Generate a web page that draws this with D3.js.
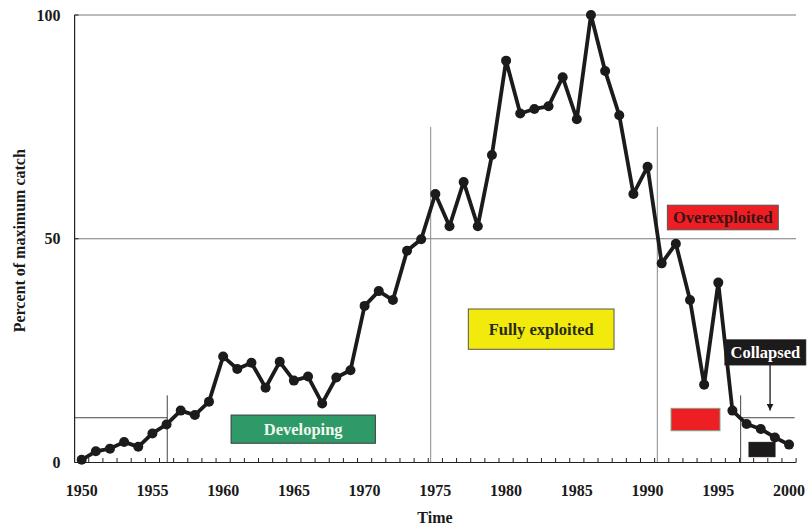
<!DOCTYPE html>
<html>
<head>
<meta charset="utf-8">
<script src="https://cdn.jsdelivr.net/npm/d3@7"></script>
<style>
  html, body { margin: 0; padding: 0; background: #fff; }
  svg { display: block; }
</style>
</head>
<body>
<svg id="chart" width="809" height="527" font-family="'Liberation Serif', 'Times New Roman', Times, 'DejaVu Serif', serif" font-weight="bold"></svg>
<script>
// ---- Data ----
const years = d3.range(1950, 2001);
const catchPct = [
  0.6, 2.5, 3.1, 4.6, 3.5, 6.5, 8.5, 11.6, 10.6, 13.6,
  23.7, 20.9, 22.3, 16.7, 22.5, 18.3, 19.2, 13.2, 19.0, 20.6,
  35.0, 38.3, 36.3, 47.3, 49.9, 60.0, 52.8, 62.7, 52.8, 68.7,
  89.8, 78.0, 79.0, 79.6, 86.1, 76.7, 100.0, 87.5, 77.6, 60.0,
  66.1, 44.5, 48.9, 36.3, 17.4, 40.2, 11.6, 8.6, 7.5, 5.6,
  4.0
];
const yTicks = [0, 50, 100];
const xTickLabels = [1950, 1955, 1960, 1965, 1970, 1975, 1980, 1985, 1990, 1995, 2000];
const yTitle = "Percent of maximum catch";
const xTitle = "Time";

// Phase boundary lines (year, value)
const phaseVerticals = [
  { x: 1956.05, top: 15 },
  { x: 1974.67, top: 75 },
  { x: 1990.69, top: 75 },
  { x: 1996.58, top: 15 }
];
const phaseHorizontals = [
  { x0: 1949.5, x1: 1956.05, v: 10 },
  { x0: 1996.58, x1: 2000.4, v: 10 }
];
// Labelled boxes (year / value extents)
const boxes = [
  { label: "Developing",      x0: 1960.56, x1: 1970.76, v0: 4.3,  v1: 10.6, fill: "#2e9a68", text: "#f2f7f0", stroke: "#3a3a3a" },
  { label: "Fully exploited", x0: 1977.33, x1: 1987.63, v0: 25.3, v1: 34.3, fill: "#f2ea0c", text: "#2a2a1a", stroke: "#555" },
  { label: "Overexploited",   x0: 1991.40, x1: 1999.24, v0: 52.0, v1: 57.5, fill: "#ee1f24", text: "#3a1414", stroke: "#555" },
  { label: "Collapsed",       x0: 1995.47, x1: 2001.18, v0: 21.8, v1: 27.4, fill: "#1c1a1a", text: "#ffffff", stroke: "#1c1a1a" },
  { label: "",                x0: 1991.66, x1: 1995.12, v0: 7.1,  v1: 12.1, fill: "#ee1f24", text: "#fff",    stroke: "#7aa88a" },
  { label: "",                x0: 1997.17, x1: 1999.01, v0: 1.3,  v1: 4.5,  fill: "#1c1a1a", text: "#fff",    stroke: "#1c1a1a" }
];
const arrow = { x: 1998.66, from: 21.8, to: 11.6 };

// ---- Scales ----
const svg = d3.select("#chart");
const x = d3.scaleLinear().domain([1949.5, 2000.5]).range([74.6, 796.1]);
const y = d3.scaleLinear().domain([0, 100]).range([462.5, 15]);

// gridlines at 50 and 100
svg.append("g").selectAll("line").data(yTicks.filter(d => d > 0)).join("line")
  .attr("x1", x(1949.5)).attr("x2", x(2000.5))
  .attr("y1", d => y(d)).attr("y2", d => y(d))
  .attr("stroke", "#7a7a7a").attr("stroke-width", 1);

// phase lines
svg.append("g").selectAll("line").data(phaseVerticals).join("line")
  .attr("x1", d => x(d.x)).attr("x2", d => x(d.x))
  .attr("y1", d => y(d.top)).attr("y2", y(0))
  .attr("stroke", d => d.top > 50 ? "#8a8a8a" : "#444").attr("stroke-width", 1);
svg.append("g").selectAll("line").data(phaseHorizontals).join("line")
  .attr("x1", d => x(d.x0)).attr("x2", d => x(d.x1))
  .attr("y1", d => y(d.v)).attr("y2", d => y(d.v))
  .attr("stroke", "#444").attr("stroke-width", 1);

// x axis (ticks at category boundaries, pointing up)
const xAxisG = svg.append("g").attr("transform", `translate(0,${y(0)})`);
xAxisG.append("line").attr("x1", x(1949.5)).attr("x2", x(2000.5))
  .attr("stroke", "#222").attr("stroke-width", 1.2);
xAxisG.selectAll("line.tick").data(d3.range(1950.5, 2001.5, 1)).join("line")
  .attr("class", "tick")
  .attr("x1", d => x(d)).attr("x2", d => x(d)).attr("y1", 0).attr("y2", -4.5)
  .attr("stroke", "#222").attr("stroke-width", 1);
xAxisG.selectAll("text").data(xTickLabels).join("text")
  .attr("x", d => x(d)).attr("y", 33)
  .attr("text-anchor", "middle").attr("font-size", 16).attr("fill", "#1a1a1a")
  .text(d => d);

// y axis
const yAxisG = svg.append("g").attr("transform", `translate(${x(1949.5)},0)`);
yAxisG.append("line").attr("y1", y(100)).attr("y2", y(0))
  .attr("stroke", "#222").attr("stroke-width", 1.2);
yAxisG.selectAll("line.tick").data(yTicks).join("line")
  .attr("class", "tick")
  .attr("x1", 0).attr("x2", 4).attr("y1", d => y(d)).attr("y2", d => y(d))
  .attr("stroke", "#222");
yAxisG.selectAll("text").data(yTicks).join("text")
  .attr("x", -14).attr("y", d => y(d)).attr("dy", "0.35em")
  .attr("text-anchor", "end").attr("font-size", 16).attr("fill", "#1a1a1a")
  .text(d => d);

// axis titles
svg.append("text")
  .attr("transform", `translate(25,${(y(0) + y(100)) / 2 + 2}) rotate(-90)`)
  .attr("text-anchor", "middle").attr("font-size", 16).attr("fill", "#1a1a1a")
  .text(yTitle);
svg.append("text")
  .attr("x", 435).attr("y", 523)
  .attr("text-anchor", "middle").attr("font-size", 16).attr("fill", "#1a1a1a")
  .text(xTitle);

// annotation boxes
const bg = svg.append("g").selectAll("g").data(boxes).join("g");
bg.append("rect")
  .attr("x", d => x(d.x0)).attr("y", d => y(d.v1))
  .attr("width", d => x(d.x1) - x(d.x0)).attr("height", d => y(d.v0) - y(d.v1))
  .attr("fill", d => d.fill).attr("stroke", d => d.stroke).attr("stroke-width", 1);
bg.append("text")
  .attr("x", d => (x(d.x0) + x(d.x1)) / 2).attr("y", d => (y(d.v0) + y(d.v1)) / 2)
  .attr("dy", "0.35em").attr("text-anchor", "middle")
  .attr("font-size", 16.5).attr("fill", d => d.text)
  .text(d => d.label);

// arrow
svg.append("defs").append("marker")
  .attr("id", "arrowhead").attr("viewBox", "0 0 10 10").attr("refX", 10).attr("refY", 5)
  .attr("markerWidth", 7).attr("markerHeight", 7).attr("markerUnits", "userSpaceOnUse")
  .attr("orient", "auto")
  .append("path").attr("d", "M0,0 L10,5 L0,10 Z").attr("fill", "#1a1a1a");
svg.append("line")
  .attr("x1", x(arrow.x)).attr("x2", x(arrow.x))
  .attr("y1", y(arrow.from)).attr("y2", y(arrow.to))
  .attr("stroke", "#1a1a1a").attr("stroke-width", 1.3)
  .attr("marker-end", "url(#arrowhead)");

// catch line and points
const series = years.map((yr, i) => ({ yr, v: catchPct[i] }));
svg.append("path").datum(series)
  .attr("fill", "none").attr("stroke", "#1c1a1a").attr("stroke-width", 3.8)
  .attr("stroke-linejoin", "round")
  .attr("d", d3.line().x(d => x(d.yr)).y(d => y(d.v)));
svg.append("g").selectAll("circle").data(series).join("circle")
  .attr("cx", d => x(d.yr)).attr("cy", d => y(d.v)).attr("r", 5)
  .attr("fill", "#1c1a1a");
</script>
</body>
</html>
